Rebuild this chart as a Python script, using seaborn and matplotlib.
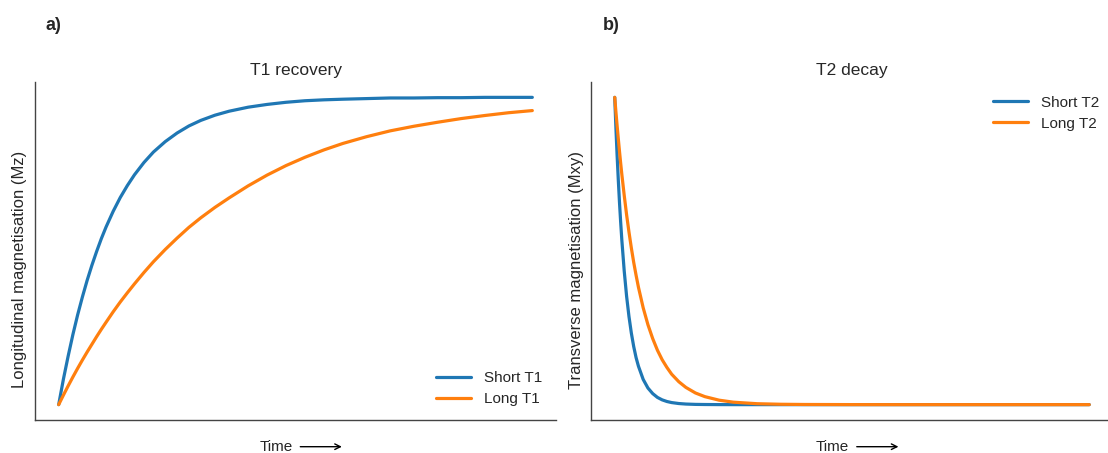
import matplotlib
matplotlib.use("Agg")
import matplotlib.pyplot as plt
import seaborn as sns
import pandas as pd

# ---- data (normalised units) ----
t1_time = [0, 0.1, 0.2, 0.3, 0.4, 0.5, 0.6, 0.7, 0.8, 0.9, 1.0, 1.15, 1.3,
           1.45, 1.6, 1.8, 2.0, 2.25, 2.5, 2.75, 3.0, 3.3, 3.6, 4.0, 4.4, 4.8,
           5.2, 5.6, 6.0, 6.5, 7.0, 7.5, 8.0, 8.5, 9.0, 9.5, 10]
short_t1 = [0, 0.083, 0.158, 0.228, 0.292, 0.350, 0.404, 0.453, 0.498, 0.540,
            0.578, 0.629, 0.674, 0.713, 0.748, 0.788, 0.822, 0.856, 0.884,
            0.907, 0.925, 0.942, 0.955, 0.968, 0.977, 0.984, 0.989, 0.992,
            0.994, 0.996, 0.998, 0.998, 0.999, 0.999, 1.0, 1.0, 1.0]
long_t1 = [0, 0.031, 0.061, 0.090, 0.118, 0.145, 0.171, 0.196, 0.221, 0.245,
           0.268, 0.302, 0.334, 0.364, 0.393, 0.430, 0.465, 0.505, 0.542,
           0.577, 0.608, 0.642, 0.673, 0.712, 0.747, 0.778, 0.805, 0.829,
           0.850, 0.872, 0.891, 0.906, 0.919, 0.931, 0.941, 0.950, 0.957]

t2_time = [0, 0.025, 0.05, 0.075, 0.1, 0.125, 0.15, 0.2, 0.25, 0.3, 0.35, 0.4,
           0.45, 0.5, 0.6, 0.7, 0.8, 0.9, 1.0, 1.1, 1.2, 1.35, 1.5, 1.7, 1.9,
           2.2, 2.5, 3, 3.5, 4, 5, 6, 8, 10]
short_t2 = [1, 0.901, 0.812, 0.732, 0.659, 0.594, 0.535, 0.435, 0.353, 0.287,
            0.233, 0.189, 0.153, 0.125, 0.082, 0.054, 0.036, 0.0235, 0.0155,
            0.0102, 0.0067, 0.0036, 0.0019, 0.0008, 0.0004, 0.0001, 0, 0, 0,
            0, 0, 0, 0, 0]
long_t2 = [1, 0.953, 0.908, 0.866, 0.825, 0.786, 0.749, 0.681, 0.618, 0.562,
           0.510, 0.463, 0.421, 0.382, 0.315, 0.260, 0.215, 0.177, 0.146,
           0.121, 0.099, 0.0746, 0.056, 0.038, 0.026, 0.0145, 0.008, 0.003,
           0.0012, 0.0005, 0.0001, 0, 0, 0]

labels_t1 = ["Short T1", "Long T1"]
labels_t2 = ["Short T2", "Long T2"]
colors = ["#1f77b4", "#ff7f0e"]

sns.set_style("white")
plt.rcParams["font.family"] = ["Liberation Sans", "DejaVu Sans"]

fig = plt.figure(figsize=(11.08, 4.53), dpi=100)
ax1 = fig.add_axes([35 / 1108, 1 - 420 / 453, (556 - 35) / 1108, (420 - 82) / 453])
ax2 = fig.add_axes([591 / 1108, 1 - 420 / 453, (1113 - 591) / 1108, (420 - 82) / 453])

df1 = pd.DataFrame({"time": t1_time * 2,
                    "value": short_t1 + long_t1,
                    "series": [labels_t1[0]] * len(t1_time) + [labels_t1[1]] * len(t1_time)})
df2 = pd.DataFrame({"time": t2_time * 2,
                    "value": short_t2 + long_t2,
                    "series": [labels_t2[0]] * len(t2_time) + [labels_t2[1]] * len(t2_time)})

sns.lineplot(data=df1, x="time", y="value", hue="series", palette=colors,
             linewidth=2.3, ax=ax1, legend=False)
sns.lineplot(data=df2, x="time", y="value", hue="series", palette=colors,
             linewidth=2.3, ax=ax2, legend=False)

for ax, labs, title, ylab, loc, ylx in [
    (ax1, labels_t1, "T1 recovery", "Longitudinal magnetisation (Mz)", "lower right", -8 / 521),
    (ax2, labels_t2, "T2 decay", "Transverse magnetisation (Mxy)", "upper right", -7 / 522),
]:
    sns.despine(ax=ax)
    ax.set_xticks([])
    ax.set_yticks([])
    ax.set_xlabel("")
    for s in ["left", "bottom"]:
        ax.spines[s].set_color("#444444")
        ax.spines[s].set_linewidth(1.0)
    ax.set_title(title, fontsize=12.5, pad=5)
    ax.set_ylabel(ylab, fontsize=12)
    ax.yaxis.set_label_coords(ylx, 0.445)
    # x label "Time" followed by a long arrow
    ax.annotate("Time", xy=(0.589, -0.079), xytext=(0.463, -0.079),
                xycoords="axes fraction", textcoords="axes fraction",
                ha="center", va="center", fontsize=11, annotation_clip=False,
                arrowprops=dict(arrowstyle="->", color="black", lw=1.0,
                                shrinkA=3, shrinkB=0, mutation_scale=10))
    handles = ax.get_lines()[:2]
    ax.legend(handles, labs, loc=loc, frameon=False, fontsize=11,
              handlelength=2.3, handletextpad=0.85, labelspacing=0.45)

fig.text(45 / 1108, 1 - 25 / 453, "a)", fontsize=13, fontweight="bold", va="center")
fig.text(603 / 1108, 1 - 25 / 453, "b)", fontsize=13, fontweight="bold", va="center")

fig.savefig("out.png", dpi=100)
